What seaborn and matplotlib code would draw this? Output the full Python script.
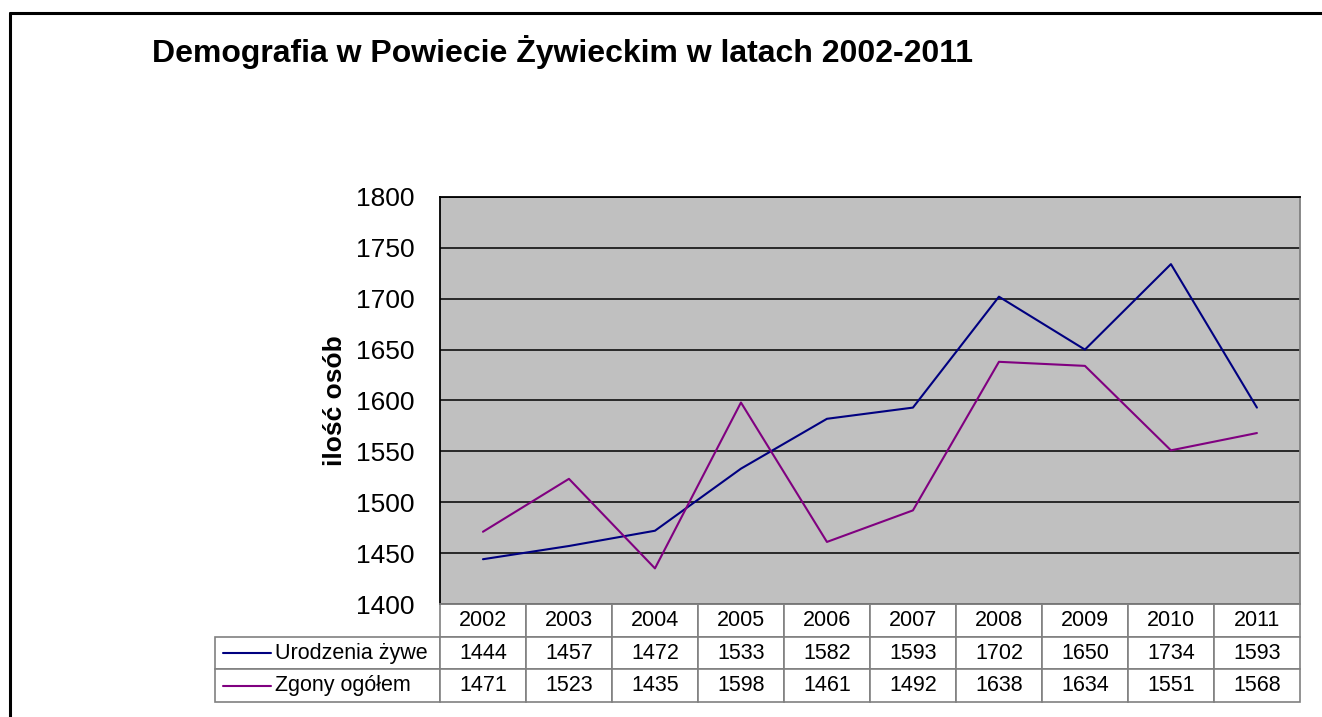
import pandas as pd
import numpy as np
import matplotlib
matplotlib.use("Agg")
import matplotlib.pyplot as plt
from matplotlib.lines import Line2D
import seaborn as sns

# dane z tabeli pod wykresem
years = ["2002", "2003", "2004", "2005", "2006", "2007", "2008", "2009", "2010", "2011"]
urodzenia = [1444, 1457, 1472, 1533, 1582, 1593, 1702, 1650, 1734, 1593]
zgony = [1471, 1523, 1435, 1598, 1461, 1492, 1638, 1634, 1551, 1568]
series_names = ["Urodzenia żywe", "Zgony ogółem"]
colors = {"Urodzenia żywe": "#000080", "Zgony ogółem": "#800080"}
y_ticks = [1400, 1450, 1500, 1550, 1600, 1650, 1700, 1750, 1800]

df = pd.DataFrame({"Rok": years * 2,
                   "Osoby": urodzenia + zgony,
                   "Seria": [series_names[0]] * len(years) + [series_names[1]] * len(years)})

sns.set_style("white")
plt.rcParams["font.family"] = ["Liberation Sans", "DejaVu Sans"]
plt.rcParams["text.color"] = "black"
plt.rcParams["axes.labelcolor"] = "black"
plt.rcParams["ytick.color"] = "black"

fig = plt.figure(figsize=(13.22, 7.17), dpi=100)
ax = fig.add_axes([0.3328, 0.1576, 0.6505, 0.5677])

sns.lineplot(data=df, x="Rok", y="Osoby", hue="Seria", palette=colors,
             linewidth=1.5, legend=False, ax=ax)

ax.set_facecolor("#C0C0C0")
ax.set_xlim(-0.5, 9.5)
ax.set_ylim(1400, 1800)
ax.set_yticks(y_ticks)
ax.grid(axis="y", color="black", linewidth=1.1)
ax.grid(axis="x", visible=False)
ax.tick_params(axis="x", labelbottom=False, length=0)
ax.tick_params(axis="y", length=0, pad=18, labelsize=19)
ax.set_xlabel("")
ax.set_ylabel("ilość osób", fontsize=19, fontweight="bold")
ax.yaxis.set_label_coords(-0.108, 0.5)
for side in ["left", "top"]:
    ax.spines[side].set_color("black")
    ax.spines[side].set_linewidth(1.3)
for side in ["right", "bottom"]:
    ax.spines[side].set_color("#808080")
    ax.spines[side].set_linewidth(1.3)

# tabela danych pod osia
tab = ax.table(cellText=[[str(v) for v in urodzenia], [str(v) for v in zgony]],
               rowLabels=series_names, colLabels=years, cellLoc="center", rowLoc="left",
               bbox=[0, -98 / 407, 1, 98 / 407])
tab.auto_set_font_size(False)
tab.set_fontsize(15.5)
tab._autoColumns = []  # stała szerokość kolumny z opisami
for (r, c), cell in tab.get_celld().items():
    cell.set_edgecolor("#808080")
    cell.set_linewidth(1.2)
    cell.set_facecolor("white")
    if c == -1:
        cell.set_width(225 / 860)
        cell.PAD = 60 / 225

# linie legendy w tabeli
for i, name in enumerate(series_names):
    yc = -(98 / 407) * (1.5 + i) / 3
    ax.add_line(Line2D([(223 - 440) / 860, (271 - 440) / 860], [yc, yc], color=colors[name],
                       linewidth=1.5, transform=ax.transAxes, clip_on=False))

fig.text(0.115, 1 - 62 / 717, "Demografia w Powiecie Żywieckim w latach 2002-2011",
         fontsize=23, fontweight="bold", va="baseline", ha="left")

# ramka wykresu
fig.add_artist(Line2D([10 / 1322, 1.0], [1 - 13 / 717, 1 - 13 / 717], color="black", linewidth=2.2))
fig.add_artist(Line2D([10 / 1322, 10 / 1322], [0, 1 - 13 / 717], color="black", linewidth=2.2))

fig.savefig("out.png", dpi=100)
